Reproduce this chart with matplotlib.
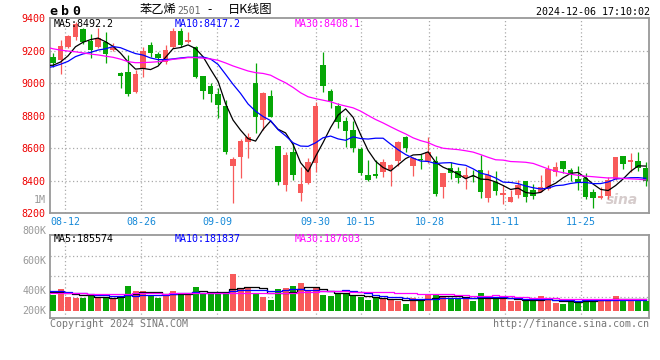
import matplotlib
matplotlib.use('Agg')
import matplotlib.pyplot as plt
import matplotlib.transforms as mtrans
import numpy as np
import pandas as pd

# ---------------- data ----------------
dates = ['08-08', '08-09',
         '08-12', '08-13', '08-14', '08-15', '08-16',
         '08-19', '08-20', '08-21', '08-22', '08-23',
         '08-26', '08-27', '08-28', '08-29', '08-30',
         '09-02', '09-03', '09-04', '09-05', '09-06',
         '09-09', '09-10', '09-11', '09-12', '09-13',
         '09-18', '09-19', '09-20',
         '09-23', '09-24', '09-25', '09-26', '09-27',
         '09-30',
         '10-08', '10-09', '10-10', '10-11',
         '10-14', '10-15', '10-16', '10-17', '10-18',
         '10-21', '10-22', '10-23', '10-24', '10-25',
         '10-28', '10-29', '10-30', '10-31', '11-01',
         '11-04', '11-05', '11-06', '11-07', '11-08',
         '11-11', '11-12', '11-13', '11-14', '11-15',
         '11-18', '11-19', '11-20', '11-21', '11-22',
         '11-25', '11-26', '11-27', '11-28', '11-29',
         '12-02', '12-03', '12-04', '12-05', '12-06']

open_ = [9158, 9142, 9220, 9285, 9332, 9259, 9224, 9250, 9203, 9060,
         9066, 8947, 9087, 9234, 9177, 9128, 9224, 9320, 9250, 9220,
         9044, 8982, 8933, 8861, 8493, 8548, 8640, 8999, 8773, 8921,
         8614, 8374, 8579, 8327, 8388, 8511, 9111, 8951, 8861, 8767,
         8712, 8595, 8435, 8442, 8452, 8466, 8523, 8669, 8493, 8534,
         8523, 8523, 8364, 8476, 8460, 8415, 8429, 8466, 8292, 8394,
         8312, 8272, 8312, 8398, 8343, 8333, 8349, 8456, 8521, 8466,
         8411, 8419, 8333, 8296, 8308, 8411, 8552, 8517, 8521, 8480]
high = [9183, 9265, 9295, 9377, 9340, 9300, 9340, 9316, 9245, 9066,
        9173, 9080, 9220, 9255, 9193, 9234, 9336, 9336, 9316, 9230,
        9044, 8999, 8968, 8896, 8548, 8656, 8691, 9121, 8947, 8958,
        8614, 8575, 8630, 8487, 8538, 8882, 9193, 8964, 8880, 8794,
        8767, 8609, 8528, 8528, 8534, 8500, 8644, 8675, 8548, 8562,
        8671, 8552, 8446, 8517, 8487, 8487, 8466, 8558, 8466, 8460,
        8374, 8343, 8405, 8398, 8378, 8435, 8497, 8517, 8521, 8480,
        8491, 8446, 8349, 8364, 8425, 8544, 8552, 8573, 8579, 8517]
low = [9101, 9056, 9215, 9265, 9238, 9152, 9213, 9121, 9195, 8968,
       8923, 8937, 9040, 9162, 9115, 9120, 9214, 9224, 9245, 9029,
       8902, 8882, 8788, 8562, 8261, 8415, 8542, 8691, 8712, 8790,
       8374, 8339, 8405, 8278, 8378, 8456, 8943, 8849, 8726, 8609,
       8579, 8435, 8401, 8415, 8425, 8370, 8493, 8579, 8431, 8470,
       8511, 8306, 8296, 8411, 8384, 8349, 8394, 8296, 8272, 8312,
       8257, 8272, 8296, 8271, 8288, 8329, 8343, 8431, 8446, 8398,
       8343, 8286, 8231, 8288, 8288, 8405, 8472, 8456, 8460, 8370]
close = [9121, 9228, 9289, 9361, 9255, 9203, 9275, 9177, 9220, 9046,
         8933, 9054, 9199, 9183, 9152, 9203, 9320, 9234, 9265, 9040,
         8952, 8933, 8865, 8579, 8534, 8644, 8671, 8790, 8937, 8794,
         8390, 8558, 8435, 8378, 8517, 8861, 8984, 8892, 8763, 8708,
         8603, 8450, 8407, 8429, 8517, 8497, 8638, 8599, 8542, 8528,
         8579, 8321, 8446, 8446, 8415, 8435, 8421, 8333, 8435, 8339,
         8325, 8300, 8374, 8302, 8306, 8360, 8472, 8485, 8470, 8440,
         8388, 8302, 8296, 8308, 8405, 8544, 8505, 8528, 8476, 8398]
# volume, thousand lots
volume = [254, 351, 227, 211, 211, 238, 200, 211, 200, 238,
          400, 324, 324, 254, 211, 254, 324, 292, 281, 383,
          281, 270, 270, 308, 594, 373, 362, 292, 221, 173,
          351, 373, 400, 454, 319, 362, 254, 238, 270, 270,
          238, 216, 173, 211, 189, 189, 157, 108, 211, 189,
          270, 270, 238, 189, 189, 211, 162, 292, 211, 189,
          211, 162, 162, 173, 162, 238, 173, 130, 108, 162,
          162, 184, 184, 162, 189, 238, 162, 184, 184, 162]
# sessions before the visible window (needed for the moving averages)
prior_close = [9470, 9480, 9460, 9500, 9450, 9420, 9440, 9400, 9430, 9390,
               9390, 9250, 9180, 9120, 9050, 9020, 9060, 9100, 9080, 9050,
               9050, 9080, 9110, 9070, 9090, 9110, 9130, 9100, 9080, 9118]
prior_volume = [260, 250, 270, 240, 260, 280, 255, 265, 250, 275,
                260, 245, 270, 265, 255, 280, 260, 250, 270, 255,
                270, 350, 330, 360, 330, 335, 300, 320, 296, 315]

tick_dates = ['08-12', '08-26', '09-09', '09-30', '10-15', '10-28', '11-11', '11-25']
price_ticks = [9400, 9200, 9000, 8800, 8600, 8400, 8200]
vol_tick_labels = ['800K', '600K', '400K', '200K']
ma_windows = [5, 10, 30]
ma_colors = ['black', 'blue', 'magenta']
ma_price_labels = ['MA5:8492.2', 'MA10:8417.2', 'MA30:8408.1']
ma_vol_labels = ['MA5:185574', 'MA10:181837', 'MA30:187603']

# ---------------- style ----------------
RED = '#f85a5a'
GREEN = '#06a606'
GRID = '#aaaaaa'
FRAME = '#999999'
BLUE_TXT = '#1689d8'
MONO = 'DejaVu Sans Mono'
CJK = ['Noto Sans CJK SC', 'DejaVu Sans']

W, H = 660, 360
fig = plt.figure(figsize=(6.6, 3.6), dpi=100)
fig.patch.set_facecolor('white')


def box(l, t, r, b):
    return [l / W, 1 - b / H, (r - l) / W, (b - t) / H]


def ftext(px, py, s, **kw):
    fig.text(px / W, 1 - py / H, s, **kw)


axp = fig.add_axes(box(50, 18, 649.3, 213.3))
axv = fig.add_axes(box(50, 234.7, 649.3, 318))

n = len(close)
x = np.arange(n)
xlim = (-0.4, n - 1 + 0.48)
o = np.array(open_, float)
c = np.array(close, float)
up = c >= o
colors = np.where(up, RED, GREEN)

# grid x positions (chart places them on a slightly different scale)
tick_idx = [dates.index(d) for d in tick_dates]
gx = [xlim[0] + i / (n - 1) * (xlim[1] - xlim[0]) for i in tick_idx]

for ax in (axp, axv):
    ax.set_xlim(*xlim)
    for s in ax.spines.values():
        s.set_color(FRAME)
        s.set_linewidth(1.3)
    for g in gx:
        ax.axvline(g, color=GRID, lw=0.9, ls=(0, (1, 2)), zorder=1)

# ---------------- price panel ----------------
axp.set_ylim(min(price_ticks), max(price_ticks))
for p in price_ticks[1:-1]:
    axp.axhline(p, color=GRID, lw=0.9, ls=(0, (1, 2)), zorder=1)

axp.vlines(x, low, high, colors=colors, lw=0.9, zorder=3)
body_lo = np.minimum(o, c)
body_h = np.maximum(np.abs(c - o), 5)
axp.bar(x, body_h, bottom=body_lo, width=0.74, color=colors, linewidth=0, zorder=4)

all_close = pd.Series(prior_close + close, dtype=float)
xs = np.arange(-len(prior_close), n)
for w, col in zip(ma_windows, ma_colors):
    axp.plot(xs, all_close.rolling(w).mean(), color=col, lw=0.9, zorder=5)

axp.set_yticks(price_ticks)
axp.set_yticklabels([str(p) for p in price_ticks], color='#ee0000',
                    fontsize=7.2, family=MONO)
shift_up = mtrans.ScaledTranslation(0, 2 / 100, fig.dpi_scale_trans)
for lab in axp.get_yticklabels():
    lab.set_transform(lab.get_transform() + shift_up)
axp.set_xticks(gx)
axp.set_xticklabels(tick_dates, color=BLUE_TXT, fontsize=7.2, family=MONO)
axp.tick_params(axis='y', length=0, pad=3)
axp.tick_params(axis='x', length=0, pad=2.5)

axp.text(-0.007, (213.3 - 200) / 195.3, '1M', transform=axp.transAxes,
         ha='right', va='center', color='#999999', fontsize=7.2, family=MONO)

for lab, col, px in zip(ma_price_labels, ma_colors, (54, 175, 295)):
    ftext(px, 23.8, lab, color=col, fontsize=7.2, family=MONO, va='center', ha='left')

# watermark
axp.text(0.955, 0.07, 'sina', transform=axp.transAxes, ha='center', va='center',
         color='#d6cccc', fontsize=10, fontweight='bold', style='italic', zorder=2)

# ---------------- volume panel ----------------
px_per_k = 1 / 16.2
axv.set_ylim(-(318 - 310.7) / px_per_k, (310.7 - 234.7) / px_per_k)
ylo, yhi = axv.get_ylim()
for f in (0.25, 0.5, 0.75):
    axv.axhline(ylo + f * (yhi - ylo), color=GRID, lw=0.9, ls=(0, (1, 2)), zorder=1)

axv.bar(x, volume, width=0.8, color=colors, linewidth=0, zorder=3)
all_vol = pd.Series(prior_volume + volume, dtype=float)
xv = np.arange(-len(prior_volume), n)
for w, col in zip(ma_windows, ma_colors):
    axv.plot(xv, all_vol.rolling(w).mean(), color=col, lw=0.9,
             drawstyle='steps-mid', zorder=5)

axv.set_yticks([])
axv.set_xticks([])
for lab, py in zip(vol_tick_labels, (230.7, 260.7, 290.7, 310.7)):
    ftext(46.5, py, lab, color='#999999', fontsize=7.2, family=MONO,
          ha='right', va='center')
for lab, col, px in zip(ma_vol_labels, ma_colors, (54, 175, 295)):
    ftext(px, 238.5, lab, color=col, fontsize=7.2, family=MONO, va='center', ha='left')

# ---------------- header / footer ----------------
for ch, px in zip('eb0', (53, 65, 76.5)):
    ftext(px, 11.5, ch, fontsize=9.5, family=MONO, fontweight='bold',
          va='center', ha='center', color='black')
ftext(140, 10, '苯乙烯', fontsize=8.8, family=CJK, va='center', ha='left', color='black')
ftext(177, 10.5, '2501', fontsize=7, family=MONO, va='center', ha='left', color='#666666')
ftext(207, 10, '-', fontsize=8.8, family=CJK, va='center', ha='left', color='black')
ftext(228, 10, '日K线图', fontsize=8.8, family=CJK, va='center', ha='left', color='black')
ftext(649.5, 12, '2024-12-06 17:10:02', fontsize=7.2, family=MONO,
      va='center', ha='right', color='black')
ftext(50, 323.7, 'Copyright 2024 SINA.COM', fontsize=7.2, family=MONO,
      va='center', ha='left', color='#777777')
ftext(649.5, 323.7, 'http://finance.sina.com.cn', fontsize=7.2, family=MONO,
      va='center', ha='right', color='#777777')

fig.savefig('out.png', dpi=100)
